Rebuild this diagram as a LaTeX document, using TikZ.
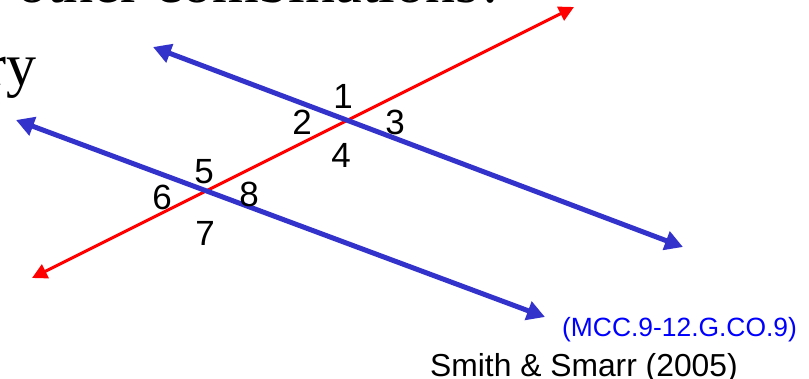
\documentclass[tikz,border=0pt]{standalone}
\usepackage{fontspec}
\setmainfont{Liberation Sans}
\newfontfamily\serifttl{Liberation Serif}
\usepackage{xcolor}
\usetikzlibrary{arrows.meta}
\definecolor{lBlue}{RGB}{51,51,204}
\definecolor{lRed}{RGB}{255,0,0}
\definecolor{cBlue}{RGB}{0,0,255}
\begin{document}
\begin{tikzpicture}[x=1pt,y=1pt,
  num/.style={inner sep=0pt,font=\fontsize{35}{40}\selectfont},
  redln/.style={lRed,line width=3pt,{Triangle[length=15pt,width=15pt]}-{Triangle[length=15pt,width=15pt]}},
  blueln/.style={lBlue,line width=5pt,{Triangle[length=18pt,width=19pt]}-{Triangle[length=18pt,width=19pt]}},
  ttl/.style={inner sep=0pt,font=\serifttl\fontsize{60}{66}\selectfont},
  cite/.style={inner sep=0pt,anchor=base west}]
\useasboundingbox (0,0) rectangle (809,-378);
\clip (0,0) rectangle (809,-378);
\node[ttl,anchor=base west] (head) at (17,-2) {other combinations?};
\node[ttl,anchor=base east] (ry) at (37,-85) {ry};
\coordinate (rA) at (32,-278);  \coordinate (rB) at (574,-7);
\coordinate (uA) at (153,-47);  \coordinate (uB) at (683,-247);
\coordinate (lA) at (16,-120);  \coordinate (lB) at (545,-317);
\draw[redln] (rA) -- (rB);
\draw[blueln] (uA) -- (uB);
\draw[blueln] (lA) -- (lB);
\foreach \k/\p in {1/{343,-96},2/{302,-122},3/{395,-122},4/{341,-155},5/{204,-172},6/{162,-197},7/{205,-233},8/{249,-194}}
  \node[num] (n\k) at (\p) {\k};
\node[cite,text=cBlue,font=\fontsize{26.4}{30}\selectfont] (mcc) at (562,-336) {(MCC.9-12.G.CO.9)};
\node[cite,font=\fontsize{31.8}{36}\selectfont] (src) at (430,-376.5) {Smith \& Smarr (2005)};
\end{tikzpicture}
\end{document}
